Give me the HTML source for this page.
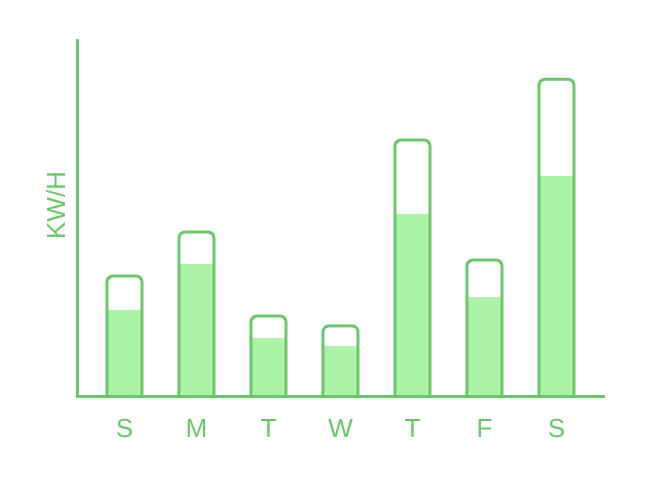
<!DOCTYPE html>
<html><head><meta charset="utf-8"><style>
html,body{margin:0;padding:0;background:#fff;width:654px;height:484px;overflow:hidden}
svg{display:block}
text{font-family:"Liberation Sans",sans-serif;fill:#6cc66c}
</style></head><body>
<svg id="chart" width="654" height="484" viewBox="0 0 654 484"></svg>
<script>
const days = ["S","M","T","W","T","F","S"];
const capacity = [37.5, 51.25, 25, 21.9, 80, 42.5, 99];
const usage = [26.9, 41.25, 18.1, 15.6, 56.9, 30.9, 68.75];

const svg = document.getElementById('chart');
const NS = 'http://www.w3.org/2000/svg';
const stroke = '#6cc66c', fill = '#aef2aa';
const baseY = 396, pxPerUnit = 3.2;
function yScale(v){ return baseY - v * pxPerUnit; }
function xScale(i){ return 107 + i * 72; }
const barW = 35;
function mk(tag, attrs){ const e=document.createElementNS(NS,tag); for(const k in attrs) e.setAttribute(k,attrs[k]); svg.appendChild(e); return e; }

days.forEach((d,i)=>{
  const x = xScale(i);
  const top = yScale(capacity[i]);
  const ft = yScale(usage[i]);
  const f = mk('rect',{x:x, y:ft, width:barW, height:baseY-ft, fill:fill});
  
  
  const o = mk('path',{d:`M${x},${baseY} L${x},${top+7} Q${x},${top} ${x+7},${top} L${x+barW-7},${top} Q${x+barW},${top} ${x+barW},${top+7} L${x+barW},${baseY}`, fill:'none', stroke:stroke, 'stroke-width':3});
  
  
  const t = mk('text',{x:x+barW/2, y:437, 'text-anchor':'middle', 'font-size':26});
  t.textContent = d;
  
  
});

const ya = mk('line',{x1:77.5, y1:39, x2:77.5, y2:397.5, stroke:stroke, 'stroke-width':3});


const xa = mk('line',{x1:76, y1:396.5, x2:605, y2:396.5, stroke:stroke, 'stroke-width':3});


const yt = mk('text',{x:0, y:0, 'text-anchor':'middle', 'font-size':26, transform:'translate(65,205) rotate(-90)'});
yt.textContent = 'KW/H';


</script>
</body></html>
